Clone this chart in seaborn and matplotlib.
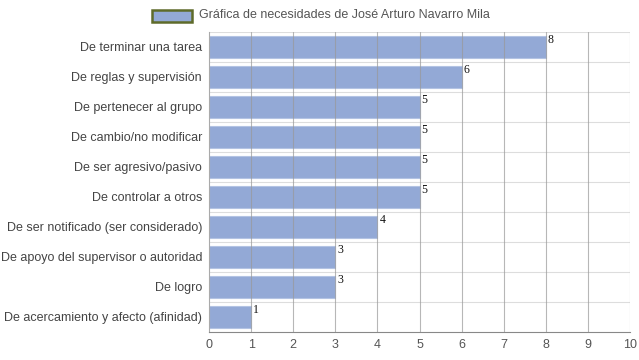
import matplotlib.pyplot as plt
import seaborn as sns
import pandas as pd
from matplotlib.patches import Rectangle

categories = ["De terminar una tarea", "De reglas y supervisión", "De pertenecer al grupo",
              "De cambio/no modificar", "De ser agresivo/pasivo", "De controlar a otros",
              "De ser notificado (ser considerado)", "De apoyo del supervisor o autoridad",
              "De logro", "De acercamiento y afecto (afinidad)"]
values = [8, 6, 5, 5, 5, 5, 4, 3, 3, 1]
series_name = "Gráfica de necesidades de José Arturo Navarro Mila"

df = pd.DataFrame({"cat": categories, "val": values})

sns.set_style("white")
plt.rcParams['font.family'] = ['Liberation Sans', 'DejaVu Sans']

fig = plt.figure(figsize=(6.39, 3.6), dpi=100)
ax = fig.add_axes([209/639, 28/360, 421/639, 300/360])

sns.barplot(data=df, y="cat", x="val", orient="h", color="#93a9d6", width=0.73,
            edgecolor="#b3c3e3", linewidth=0.8, alpha=1.0, saturation=1, ax=ax, zorder=1)

ax.set_xlim(0, 10)
ax.set_ylim(len(categories) - 0.5, -0.5)
ax.set_xticks(range(0, 11))
for x in range(1, 11):
    ax.axvline(x, color="#999999", lw=0.8, zorder=2, alpha=0.7)
for y in range(len(categories)):
    ax.axhline(y - 0.5, color="#dddddd", lw=0.8, zorder=0)

for s in ["top", "right"]:
    ax.spines[s].set_visible(False)
ax.spines["left"].set_color("#aaaaaa")
ax.spines["left"].set_linewidth(0.8)
ax.spines["bottom"].set_color("#888888")
ax.spines["bottom"].set_linewidth(0.8)

ax.set_xlabel("")
ax.set_ylabel("")
ax.tick_params(axis="both", length=0, labelsize=9, colors="#555555", pad=5)
ax.tick_params(axis="y", labelcolor="#444444")

for i, v in enumerate(values):
    ax.text(v + 0.05, i - 0.24, str(v), fontsize=8.5, family="Liberation Serif",
            color="#111111", ha="left", va="center")

# legend
fig.patches.append(Rectangle((152/639, 1 - 22/360), 40/639, 12/360, transform=fig.transFigure,
                             facecolor="#93a9d6", edgecolor="#5e6b2a", linewidth=1.8))
fig.text(199/639, 1 - 15/360, series_name, fontsize=9, color="#555555", va="center", ha="left")

fig.savefig("out.png", dpi=100)
